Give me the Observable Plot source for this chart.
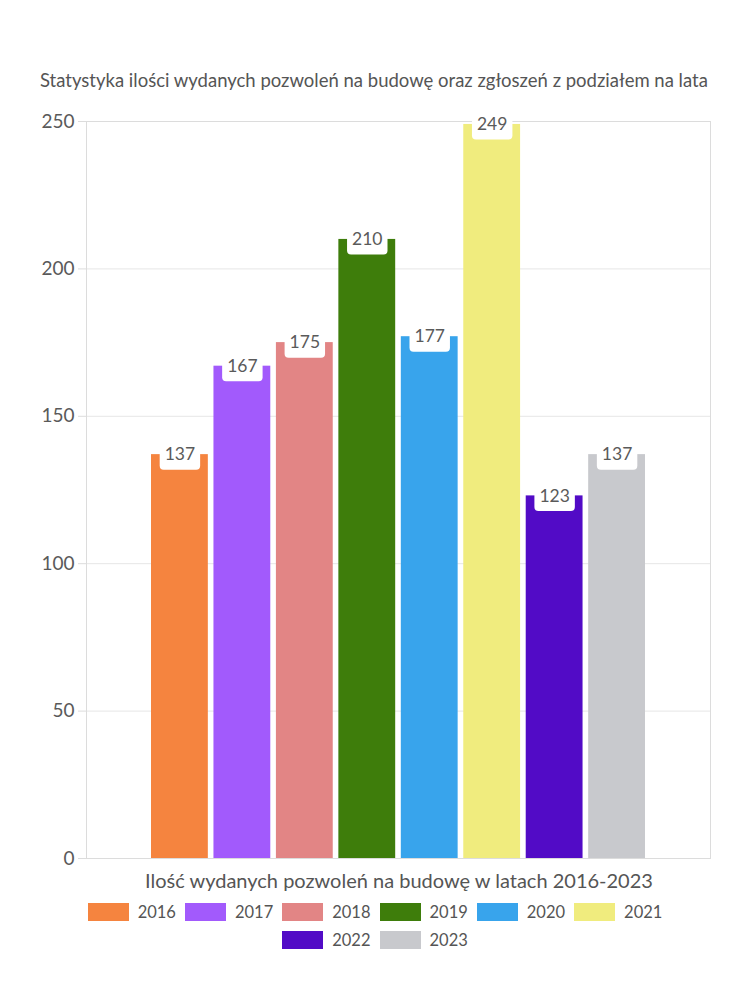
<!DOCTYPE html>
<html>
<head>
<meta charset="utf-8">
<script src="https://cdn.jsdelivr.net/npm/d3@7"></script>
<script src="https://cdn.jsdelivr.net/npm/@observablehq/plot@0.6"></script>
<style>
  body { margin: 0; background: #fff; font-family: Lato, "Open Sans", sans-serif; color: #5a5a5a; }
  #wrap { width: 750px; }
  #title { height: 100px; box-sizing: border-box; padding-top: 68px; padding-left: 40px; font-size: 18.5px; line-height: 24px; color: #555; white-space: nowrap; }
  #xlabel { text-align: center; font-size: 20px; line-height: 24px; height: 24px; color: #555; padding-left: 48px; }
  .legend { display: flex; justify-content: center; align-items: center; height: 28px; }
  .legend.first { margin-top: 6px; }
  .item { display: flex; align-items: center; margin: 0 4.5px; font-size: 16.5px; color: #555; }
  .sw { width: 41px; height: 18px; margin-right: 9px; }
</style>
</head>
<body>
<div id="wrap">
  <div id="title">Statystyka ilości wydanych pozwoleń na budowę oraz zgłoszeń z podziałem na lata</div>
  <div id="chart"></div>
  <div id="xlabel">Ilość wydanych pozwoleń na budowę w latach 2016-2023</div>
  <div id="legend"></div>
</div>
<script>
const years = ["2016", "2017", "2018", "2019", "2020", "2021", "2022", "2023"];
const values = [137, 167, 175, 210, 177, 249, 123, 137];
const colors = ["#F5843F", "#A25AFC", "#E28585", "#3E7D0B", "#38A4EC", "#F0EC7E", "#520BC6", "#C8C9CD"];
const yTicks = [0, 50, 100, 150, 200, 250];

const data = years.map((y, i) => ({year: y, value: values[i]}));

const plot = Plot.plot({
  width: 750,
  height: 768,
  marginLeft: 86,
  marginRight: 40,
  marginTop: 21,
  marginBottom: 10,
  style: {fontFamily: "Lato, 'Open Sans', sans-serif", fontSize: "19px", color: "#5a5a5a", background: "transparent"},
  x: {domain: years, range: [151, 645], paddingInner: 0.09, paddingOuter: 0, round: false, axis: null},
  y: {domain: [0, 250], ticks: yTicks, label: null, grid: false},
  color: {domain: years, range: colors},
  marks: [
    Plot.ruleY(yTicks, {stroke: "#e6e6e6", strokeWidth: 1}),
    Plot.frame({stroke: "#dcdcdc"}),
    Plot.axisY({ticks: yTicks, tickSize: 8, tickPadding: 4, stroke: "#dcdcdc", label: null, fill: "#5a5a5a", fontSize: 19}),
    Plot.barY(data, {x: "year", y: "value", fill: "year"}),
    Plot.text(data, {x: "year", y: "value", text: d => String(d.value), fill: "#5a5a5a", fontSize: 17.5})
  ]
});
document.getElementById("chart").appendChild(plot);

// white rounded boxes behind value labels
const labelNodes = Array.from(plot.querySelectorAll('g[aria-label="text"] text'));
labelNodes.forEach(node => {
  const b = node.getBBox();
  const rect = document.createElementNS("http://www.w3.org/2000/svg", "rect");
  rect.setAttribute("x", b.x - 5);
  rect.setAttribute("y", b.y + b.height / 2 - 15);
  rect.setAttribute("width", b.width + 10);
  rect.setAttribute("height", 31);
  rect.setAttribute("rx", 4);
  rect.setAttribute("fill", "#fff");
  const t = node.getAttribute("transform");
  if (t) rect.setAttribute("transform", t);
  node.parentNode.insertBefore(rect, node);
});

// legend
const rows = [years.slice(0, 6), years.slice(6)];
const leg = document.getElementById("legend");
rows.forEach((r, ri) => {
  const row = document.createElement("div");
  row.className = "legend" + (ri === 0 ? " first" : "");
  r.forEach(y => {
    const it = document.createElement("div");
    it.className = "item";
    it.innerHTML = `<span class="sw" style="background:${colors[years.indexOf(y)]}"></span><span>${y}</span>`;
    row.appendChild(it);
  });
  leg.appendChild(row);
});
</script>
</body>
</html>
